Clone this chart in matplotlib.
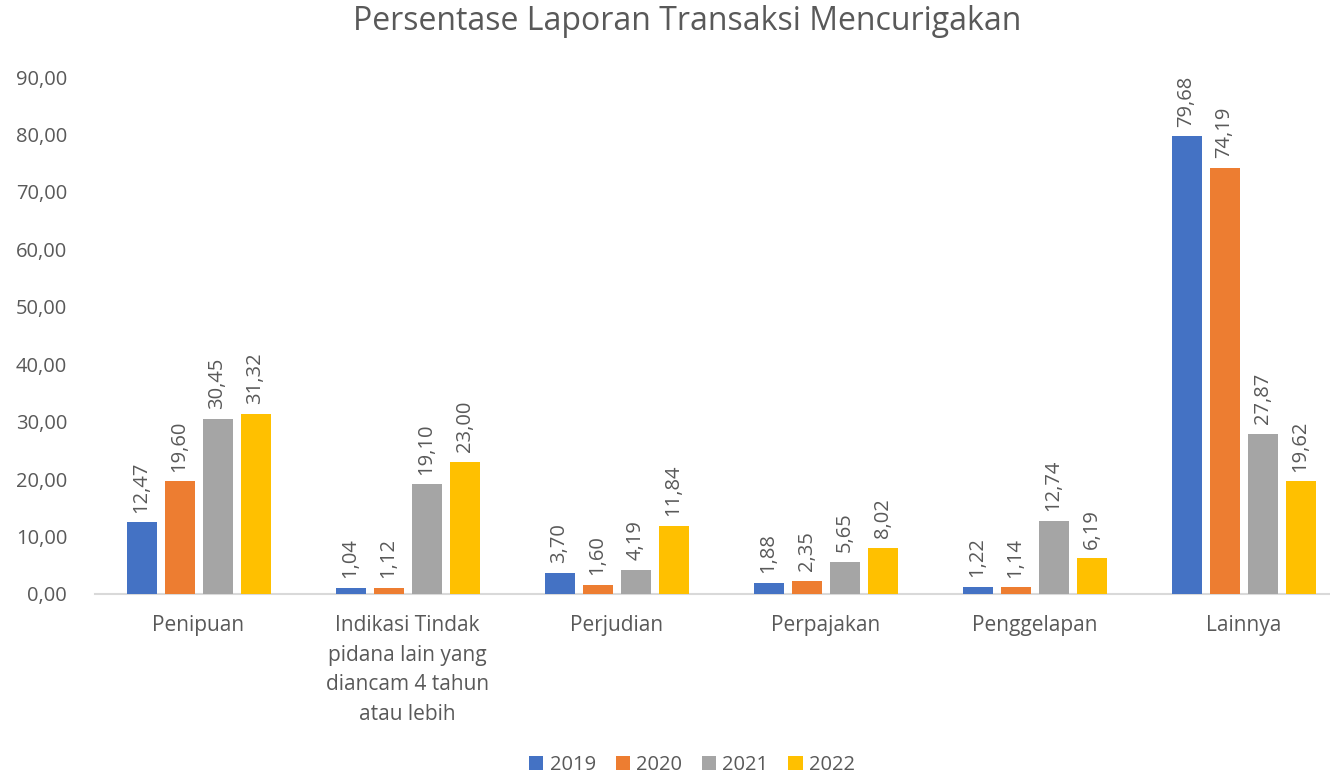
import numpy as np
import matplotlib
matplotlib.use('Agg')
import matplotlib.pyplot as plt

plt.rcParams['font.family'] = ['Open Sans', 'DejaVu Sans']

categories = ['Penipuan',
              'Indikasi Tindak\npidana lain yang\ndiancam 4 tahun\natau lebih',
              'Perjudian', 'Perpajakan', 'Penggelapan', 'Lainnya']
years = ['2019', '2020', '2021', '2022']
v2019 = [12.47, 1.04, 3.70, 1.88, 1.22, 79.68]
v2020 = [19.60, 1.12, 1.60, 2.35, 1.14, 74.19]
v2021 = [30.45, 19.10, 4.19, 5.65, 12.74, 27.87]
v2022 = [31.32, 23.00, 11.84, 8.02, 6.19, 19.62]
series = [v2019, v2020, v2021, v2022]
colors = ['#4472C4', '#ED7D31', '#A5A5A5', '#FFC000']
txt = '#595959'

W, H = 1330, 774
fig = plt.figure(figsize=(W / 100, H / 100), dpi=100)
# axes in pixel terms: left 95, right 1330, bottom y=594, top y=77 (90)
ax = fig.add_axes([95 / W, 1 - 594 / H, (1330 - 95) / W, (594 - 77) / H])

group = 209.0
x = np.arange(len(categories))
bw = 30 / group
step = 38 / group
for i, (vals, c, yr) in enumerate(zip(series, colors, years)):
    pos = x + (i - 1.5) * step
    bars = ax.bar(pos, vals, width=bw, color=c, label=yr, zorder=3)
    for b, v in zip(bars, vals):
        ax.annotate(('%.2f' % v).replace('.', ','),
                    (b.get_x() + b.get_width() / 2, v),
                    xytext=(0, 7), textcoords='offset points',
                    rotation=90, ha='center', va='bottom',
                    fontsize=14.5, color=txt)

left0 = 198.5 - 95
ax.set_xlim(-left0 / group, -left0 / group + (1330 - 95) / group)
ax.set_ylim(0, 90)
ax.set_yticks(np.arange(0, 91, 10))
ax.set_yticklabels([('%.2f' % t).replace('.', ',') for t in np.arange(0, 91, 10)],
                   fontsize=14.5, color=txt)
ax.set_xticks(x)
ax.set_xticklabels(categories, fontsize=15, color=txt, linespacing=1.55, va='top')
ax.tick_params(axis='both', length=0)
ax.tick_params(axis='x', pad=15)
ax.tick_params(axis='y', pad=20)
for s in ['top', 'right', 'left']:
    ax.spines[s].set_visible(False)
ax.spines['bottom'].set_color('#D9D9D9')
ax.spines['bottom'].set_linewidth(1.5)

fig.text(687 / W, 1 - 22 / H, 'Persentase Laporan Transaksi Mencurigakan',
         ha='center', va='center', fontsize=23, color=txt)

fig.legend(loc='center', bbox_to_anchor=(692 / W, 1 - 765 / H), ncol=4,
           frameon=False, fontsize=14.5, handlelength=0.7, handleheight=0.7,
           handletextpad=0.3, columnspacing=1.0, labelcolor=txt)

fig.savefig('out.png', dpi=100)
